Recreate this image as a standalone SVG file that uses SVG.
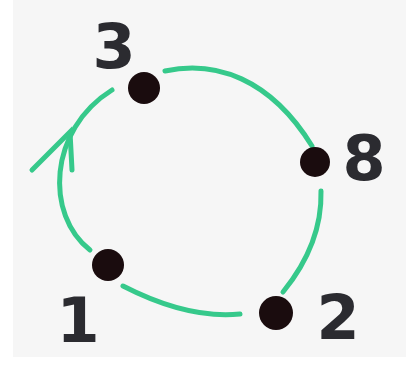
<svg xmlns="http://www.w3.org/2000/svg" width="416" height="366" viewBox="0 0 416 366">
<style>
.arc{fill:none;stroke:#36c98b;stroke-width:5;stroke-linecap:round}
.dot{fill:#1a0c0e}
.lbl{font-family:"DejaVu Sans","Liberation Sans",sans-serif;font-size:62px;font-weight:bold;fill:#2b2b30;text-anchor:middle}
</style>
<rect x="0" y="0" width="416" height="366" fill="#ffffff"/>
<rect x="13" y="0" width="393" height="357" fill="#f6f6f6"/>
<g id="connectors">
<path class="arc" d="M165 71 C215 60 270 78 312 146"/>
<path class="arc" d="M321 191 C322 230 305 265 283 292"/>
<path class="arc" d="M240 314 C200 318 160 305 123 286"/>
<path class="arc" d="M90 250 C45 215 48 130 112 90"/>
<path class="arc" d="M32 170 L70 132 L72 170"/>
</g>
<g id="n3"><circle class="dot" cx="144" cy="88" r="16"/><text class="lbl" x="114" y="68">3</text></g>
<g id="n8"><circle class="dot" cx="315" cy="162" r="15"/><text class="lbl" x="364" y="180">8</text></g>
<g id="n1"><circle class="dot" cx="108" cy="265" r="16"/><text class="lbl" x="78" y="342">1</text></g>
<g id="n2"><circle class="dot" cx="276" cy="313" r="17"/><text class="lbl" x="338" y="339">2</text></g>
</svg>
